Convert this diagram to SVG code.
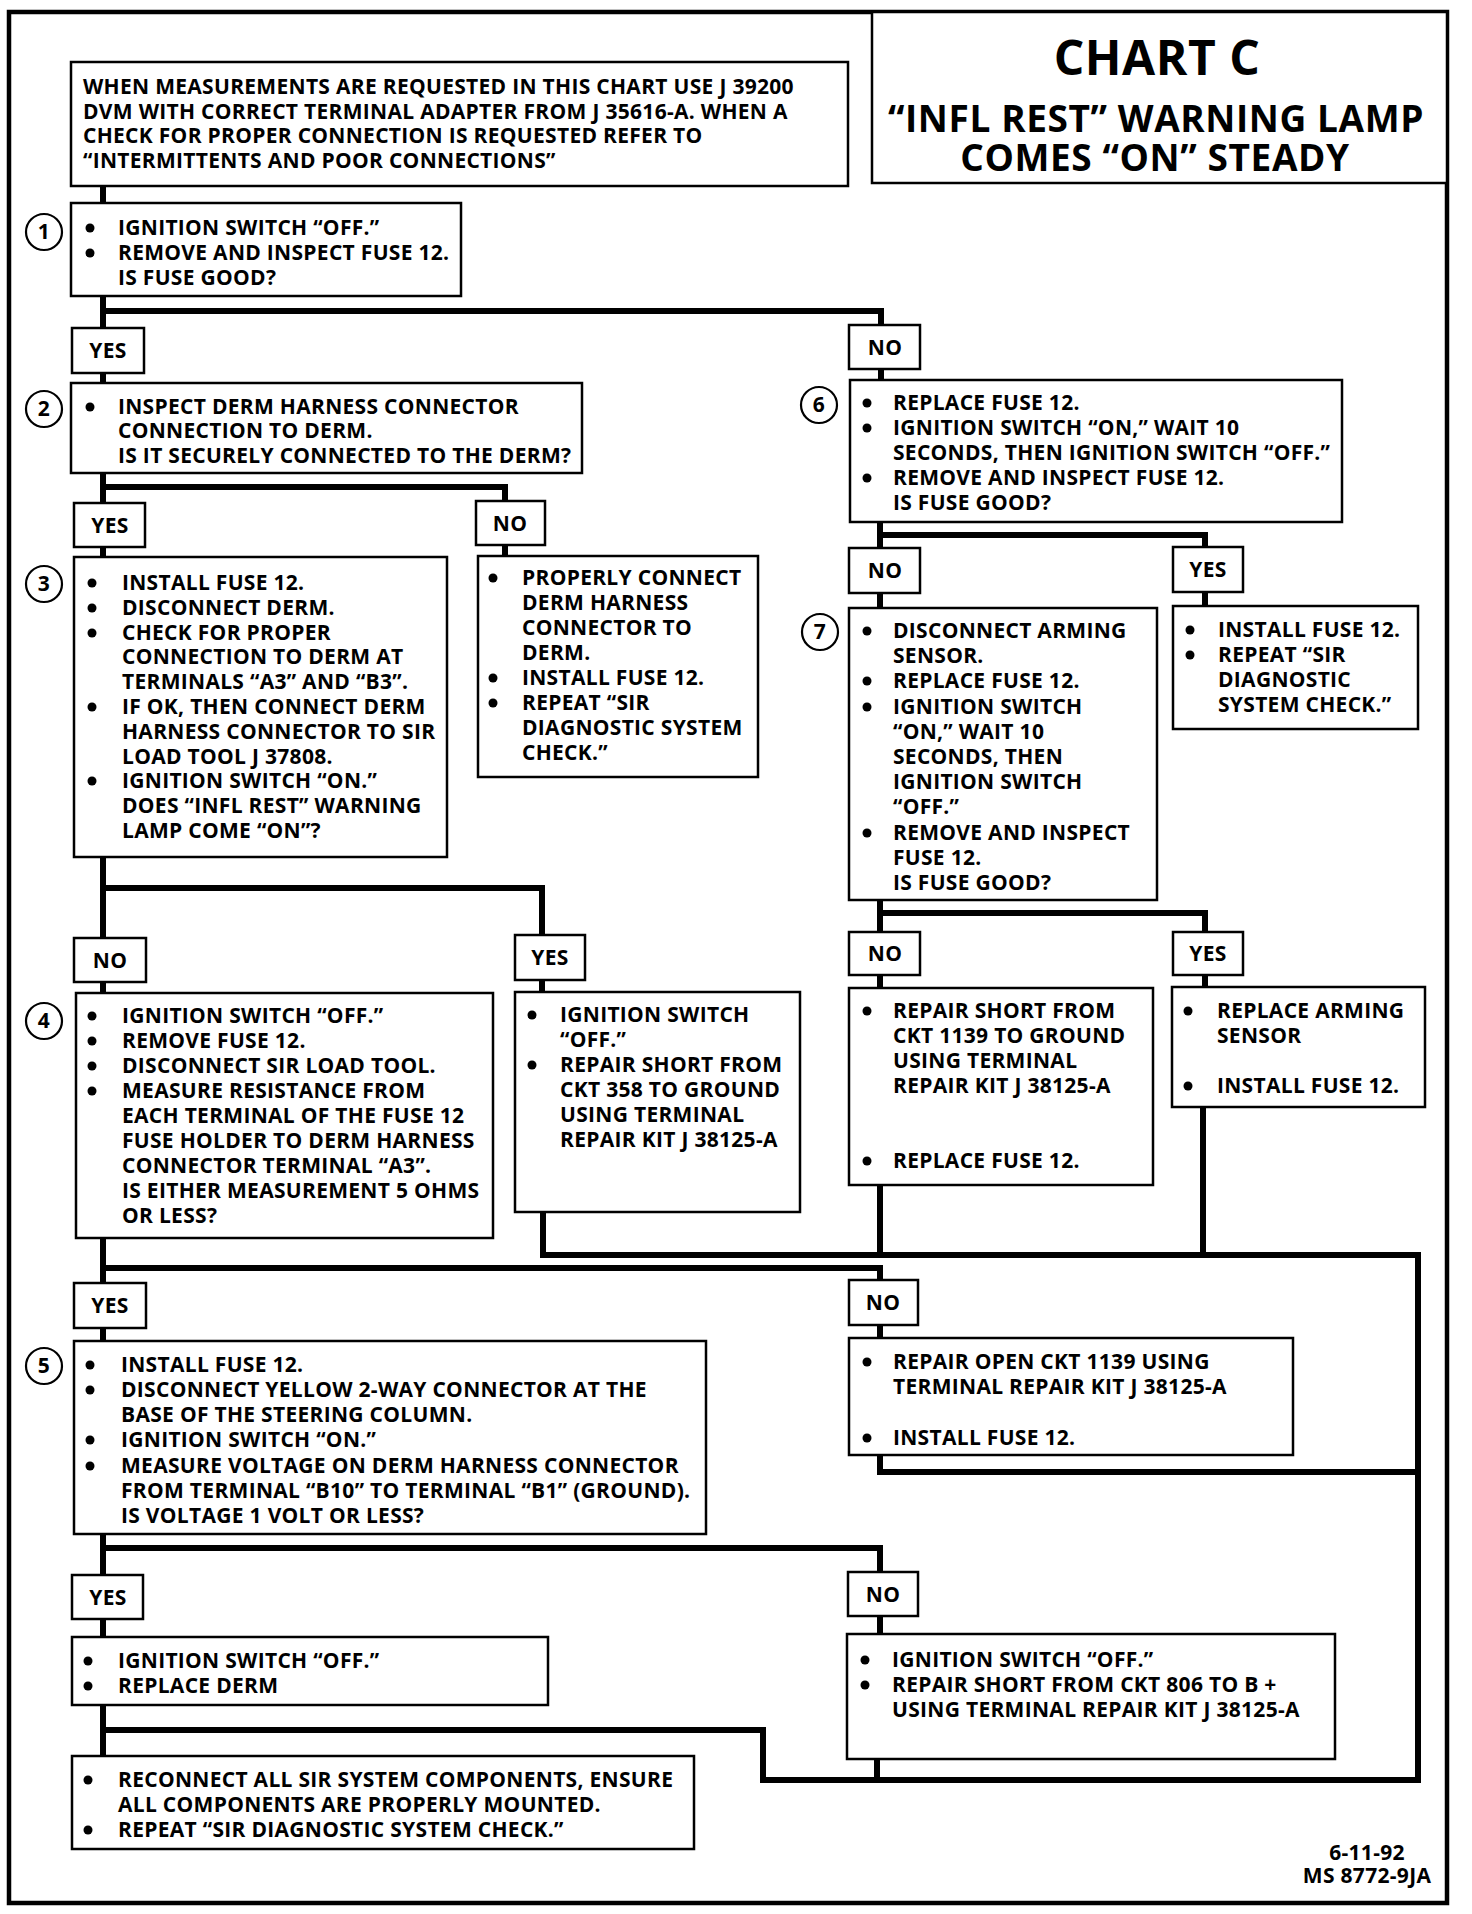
<svg xmlns="http://www.w3.org/2000/svg" width="1472" height="1914" viewBox="0 0 1472 1914">
<style>
.bg{fill:#fff}
.frame{fill:none;stroke:#000;stroke-width:4.5}
.box{fill:#fff;stroke:#000;stroke-width:2.5}
.lbl{fill:#fff;stroke:#000;stroke-width:2.5}
.conn{fill:none;stroke:#000;stroke-width:6;stroke-linejoin:miter}
.t{font-family:"Open Sans","Liberation Sans",sans-serif;font-weight:700;font-size:21px;letter-spacing:0.3px;fill:#000}
.c{text-anchor:middle}
.b{fill:#000}
.num{fill:#fff;stroke:#000;stroke-width:2.2}
.title1{font-family:"Open Sans","Liberation Sans",sans-serif;font-weight:700;font-size:48px;letter-spacing:0.5px;fill:#000;text-anchor:middle}
.title2{font-family:"Open Sans","Liberation Sans",sans-serif;font-weight:700;font-size:37px;letter-spacing:0.6px;fill:#000;text-anchor:middle}
</style>
<rect class="bg" x="0" y="0" width="1472" height="1914"/>
<rect class="frame" x="9" y="12" width="1438" height="1891"/>

<g id="connectors">
<path class="conn" d="M103 186 V1756"/>
<path class="conn" d="M103 311 H881 V380"/>
<path class="conn" d="M103 487 H505 V556"/>
<path class="conn" d="M880 522 V608"/>
<path class="conn" d="M880 535 H1205 V606"/>
<path class="conn" d="M103 888 H542 V992"/>
<path class="conn" d="M880 900 V988"/>
<path class="conn" d="M880 913 H1205 V987"/>
<path class="conn" d="M103 1268 H880 V1338"/>
<path class="conn" d="M543 1212 V1255 H1418 V1780 H763 V1730 H103"/>
<path class="conn" d="M880 1185 V1255"/>
<path class="conn" d="M1203 1107 V1255"/>
<path class="conn" d="M880 1455 V1472 H1418"/>
<path class="conn" d="M103 1548 H880 V1634"/>
<path class="conn" d="M877 1759 V1780"/>
</g>

<g id="title">
<rect class="box" x="872" y="12" width="575" height="171"/>
<text class="title1" x="1157" y="75">CHART C</text>
<text class="title2" x="1156" y="132">“INFL REST” WARNING LAMP</text>
<text class="title2" x="1155" y="171">COMES “ON” STEADY</text>
</g>

<g id="note">
<rect class="box" x="71" y="62" width="777" height="124"/>
<text class="t" x="83" y="94">WHEN MEASUREMENTS ARE REQUESTED IN THIS CHART USE J 39200</text>
<text class="t" x="83" y="119">DVM WITH CORRECT TERMINAL ADAPTER FROM J 35616-A.  WHEN A</text>
<text class="t" x="83" y="143">CHECK FOR PROPER CONNECTION IS REQUESTED REFER TO</text>
<text class="t" x="83" y="168">“INTERMITTENTS AND POOR CONNECTIONS”</text>
</g>

<g id="step1">
<circle class="num" cx="44" cy="232" r="18"/><text class="t c" x="44" y="239">1</text>
<rect class="box" x="71" y="203" width="390" height="93"/>
<circle class="b" cx="90" cy="228" r="4.5"/><text class="t" x="118" y="235">IGNITION SWITCH “OFF.”</text>
<circle class="b" cx="90" cy="253" r="4.5"/><text class="t" x="118" y="260">REMOVE AND INSPECT FUSE 12.</text>
<text class="t" x="118" y="285">IS FUSE GOOD?</text>
</g>

<g id="l1yes"><rect class="lbl" x="72" y="328" width="72" height="45"/><text class="t c" x="108" y="358">YES</text></g>
<g id="l1no"><rect class="lbl" x="849" y="325" width="71" height="44"/><text class="t c" x="885" y="355">NO</text></g>

<g id="step2">
<circle class="num" cx="44" cy="409" r="18"/><text class="t c" x="44" y="416">2</text>
<rect class="box" x="71" y="383" width="511" height="90"/>
<circle class="b" cx="90" cy="407" r="4.5"/><text class="t" x="118" y="414">INSPECT DERM HARNESS CONNECTOR</text>
<text class="t" x="118" y="438">CONNECTION TO DERM.</text>
<text class="t" x="118" y="463">IS IT SECURELY CONNECTED TO THE DERM?</text>
</g>

<g id="l2yes"><rect class="lbl" x="74" y="503" width="71" height="44"/><text class="t c" x="110" y="533">YES</text></g>
<g id="l2no"><rect class="lbl" x="476" y="501" width="69" height="44"/><text class="t c" x="510" y="531">NO</text></g>

<g id="step3">
<circle class="num" cx="44" cy="584" r="18"/><text class="t c" x="44" y="591">3</text>
<rect class="box" x="74" y="557" width="373" height="300"/>
<circle class="b" cx="92" cy="583" r="4.5"/><text class="t" x="122" y="590">INSTALL FUSE 12.</text>
<circle class="b" cx="92" cy="608" r="4.5"/><text class="t" x="122" y="615">DISCONNECT DERM.</text>
<circle class="b" cx="92" cy="633" r="4.5"/><text class="t" x="122" y="640">CHECK FOR PROPER</text>
<text class="t" x="122" y="664">CONNECTION TO DERM AT</text>
<text class="t" x="122" y="689">TERMINALS “A3” AND “B3”.</text>
<circle class="b" cx="92" cy="707" r="4.5"/><text class="t" x="122" y="714">IF OK, THEN CONNECT DERM</text>
<text class="t" x="122" y="739">HARNESS CONNECTOR TO SIR</text>
<text class="t" x="122" y="764">LOAD TOOL J 37808.</text>
<circle class="b" cx="92" cy="781" r="4.5"/><text class="t" x="122" y="788">IGNITION SWITCH “ON.”</text>
<text class="t" x="122" y="813">DOES “INFL REST” WARNING</text>
<text class="t" x="122" y="838">LAMP COME “ON”?</text>
</g>

<g id="connect">
<rect class="box" x="478" y="556" width="280" height="221"/>
<circle class="b" cx="493" cy="578" r="4.5"/><text class="t" x="522" y="585">PROPERLY CONNECT</text>
<text class="t" x="522" y="610">DERM HARNESS</text>
<text class="t" x="522" y="635">CONNECTOR TO</text>
<text class="t" x="522" y="660">DERM.</text>
<circle class="b" cx="493" cy="678" r="4.5"/><text class="t" x="522" y="685">INSTALL FUSE 12.</text>
<circle class="b" cx="493" cy="703" r="4.5"/><text class="t" x="522" y="710">REPEAT “SIR</text>
<text class="t" x="522" y="735">DIAGNOSTIC SYSTEM</text>
<text class="t" x="522" y="760">CHECK.”</text>
</g>

<g id="step6">
<circle class="num" cx="819" cy="405" r="18"/><text class="t c" x="819" y="412">6</text>
<rect class="box" x="850" y="380" width="492" height="142"/>
<circle class="b" cx="867" cy="403" r="4.5"/><text class="t" x="893" y="410">REPLACE FUSE 12.</text>
<circle class="b" cx="867" cy="428" r="4.5"/><text class="t" x="893" y="435">IGNITION SWITCH “ON,” WAIT 10</text>
<text class="t" x="893" y="460">SECONDS, THEN IGNITION SWITCH “OFF.”</text>
<circle class="b" cx="867" cy="478" r="4.5"/><text class="t" x="893" y="485">REMOVE AND INSPECT FUSE 12.</text>
<text class="t" x="893" y="510">IS FUSE GOOD?</text>
</g>

<g id="l6no"><rect class="lbl" x="849" y="548" width="71" height="45"/><text class="t c" x="885" y="578">NO</text></g>
<g id="l6yes"><rect class="lbl" x="1173" y="547" width="70" height="45"/><text class="t c" x="1208" y="577">YES</text></g>

<g id="step7">
<circle class="num" cx="820" cy="632" r="18"/><text class="t c" x="820" y="639">7</text>
<rect class="box" x="849" y="608" width="308" height="292"/>
<circle class="b" cx="867" cy="631" r="4.5"/><text class="t" x="893" y="638">DISCONNECT ARMING</text>
<text class="t" x="893" y="663">SENSOR.</text>
<circle class="b" cx="867" cy="681" r="4.5"/><text class="t" x="893" y="688">REPLACE FUSE 12.</text>
<circle class="b" cx="867" cy="707" r="4.5"/><text class="t" x="893" y="714">IGNITION SWITCH</text>
<text class="t" x="893" y="739">“ON,” WAIT 10</text>
<text class="t" x="893" y="764">SECONDS, THEN</text>
<text class="t" x="893" y="789">IGNITION SWITCH</text>
<text class="t" x="893" y="814">“OFF.”</text>
<circle class="b" cx="867" cy="833" r="4.5"/><text class="t" x="893" y="840">REMOVE AND INSPECT</text>
<text class="t" x="893" y="865">FUSE 12.</text>
<text class="t" x="893" y="890">IS FUSE GOOD?</text>
</g>

<g id="fuseok">
<rect class="box" x="1173" y="606" width="245" height="123"/>
<circle class="b" cx="1190" cy="630" r="4.5"/><text class="t" x="1218" y="637">INSTALL FUSE 12.</text>
<circle class="b" cx="1190" cy="655" r="4.5"/><text class="t" x="1218" y="662">REPEAT “SIR</text>
<text class="t" x="1218" y="687">DIAGNOSTIC</text>
<text class="t" x="1218" y="712">SYSTEM CHECK.”</text>
</g>

<g id="l3no"><rect class="lbl" x="74" y="938" width="72" height="44"/><text class="t c" x="110" y="968">NO</text></g>
<g id="l3yes"><rect class="lbl" x="515" y="935" width="70" height="45"/><text class="t c" x="550" y="965">YES</text></g>
<g id="l7no"><rect class="lbl" x="849" y="932" width="71" height="43"/><text class="t c" x="885" y="961">NO</text></g>
<g id="l7yes"><rect class="lbl" x="1173" y="932" width="70" height="43"/><text class="t c" x="1208" y="961">YES</text></g>

<g id="step4">
<circle class="num" cx="44" cy="1021" r="18"/><text class="t c" x="44" y="1028">4</text>
<rect class="box" x="76" y="993" width="417" height="245"/>
<circle class="b" cx="92" cy="1016" r="4.5"/><text class="t" x="122" y="1023">IGNITION SWITCH “OFF.”</text>
<circle class="b" cx="92" cy="1041" r="4.5"/><text class="t" x="122" y="1048">REMOVE FUSE 12.</text>
<circle class="b" cx="92" cy="1066" r="4.5"/><text class="t" x="122" y="1073">DISCONNECT SIR LOAD TOOL.</text>
<circle class="b" cx="92" cy="1091" r="4.5"/><text class="t" x="122" y="1098">MEASURE RESISTANCE FROM</text>
<text class="t" x="122" y="1123">EACH TERMINAL OF THE FUSE 12</text>
<text class="t" x="122" y="1148">FUSE HOLDER TO DERM HARNESS</text>
<text class="t" x="122" y="1173">CONNECTOR TERMINAL “A3”.</text>
<text class="t" x="122" y="1198">IS EITHER MEASUREMENT 5 OHMS</text>
<text class="t" x="122" y="1223">OR LESS?</text>
</g>

<g id="short358">
<rect class="box" x="515" y="992" width="285" height="220"/>
<circle class="b" cx="532" cy="1015" r="4.5"/><text class="t" x="560" y="1022">IGNITION SWITCH</text>
<text class="t" x="560" y="1047">“OFF.”</text>
<circle class="b" cx="532" cy="1065" r="4.5"/><text class="t" x="560" y="1072">REPAIR SHORT FROM</text>
<text class="t" x="560" y="1097">CKT 358 TO GROUND</text>
<text class="t" x="560" y="1122">USING TERMINAL</text>
<text class="t" x="560" y="1147">REPAIR KIT J 38125-A</text>
</g>

<g id="short1139">
<rect class="box" x="849" y="988" width="304" height="197"/>
<circle class="b" cx="867" cy="1011" r="4.5"/><text class="t" x="893" y="1018">REPAIR SHORT FROM</text>
<text class="t" x="893" y="1043">CKT 1139 TO GROUND</text>
<text class="t" x="893" y="1068">USING TERMINAL</text>
<text class="t" x="893" y="1093">REPAIR KIT J 38125-A</text>
<circle class="b" cx="867" cy="1161" r="4.5"/><text class="t" x="893" y="1168">REPLACE FUSE 12.</text>
</g>

<g id="arming">
<rect class="box" x="1172" y="987" width="253" height="120"/>
<circle class="b" cx="1188" cy="1011" r="4.5"/><text class="t" x="1217" y="1018">REPLACE ARMING</text>
<text class="t" x="1217" y="1043">SENSOR</text>
<circle class="b" cx="1188" cy="1086" r="4.5"/><text class="t" x="1217" y="1093">INSTALL FUSE 12.</text>
</g>

<g id="l4yes"><rect class="lbl" x="74" y="1283" width="72" height="45"/><text class="t c" x="110" y="1313">YES</text></g>
<g id="l4no"><rect class="lbl" x="849" y="1280" width="69" height="45"/><text class="t c" x="883" y="1310">NO</text></g>

<g id="step5">
<circle class="num" cx="44" cy="1366" r="18"/><text class="t c" x="44" y="1373">5</text>
<rect class="box" x="74" y="1341" width="632" height="193"/>
<circle class="b" cx="90" cy="1365" r="4.5"/><text class="t" x="121" y="1372">INSTALL FUSE 12.</text>
<circle class="b" cx="90" cy="1390" r="4.5"/><text class="t" x="121" y="1397">DISCONNECT YELLOW 2-WAY CONNECTOR AT THE</text>
<text class="t" x="121" y="1422">BASE OF THE STEERING COLUMN.</text>
<circle class="b" cx="90" cy="1440" r="4.5"/><text class="t" x="121" y="1447">IGNITION SWITCH “ON.”</text>
<circle class="b" cx="90" cy="1466" r="4.5"/><text class="t" x="121" y="1473">MEASURE VOLTAGE ON DERM HARNESS CONNECTOR</text>
<text class="t" x="121" y="1498">FROM TERMINAL “B10” TO TERMINAL “B1” (GROUND).</text>
<text class="t" x="121" y="1523">IS VOLTAGE 1 VOLT OR LESS?</text>
</g>

<g id="open1139">
<rect class="box" x="849" y="1338" width="444" height="117"/>
<circle class="b" cx="867" cy="1362" r="4.5"/><text class="t" x="893" y="1369">REPAIR OPEN CKT 1139 USING</text>
<text class="t" x="893" y="1394">TERMINAL REPAIR KIT J 38125-A</text>
<circle class="b" cx="867" cy="1438" r="4.5"/><text class="t" x="893" y="1445">INSTALL FUSE 12.</text>
</g>

<g id="l5yes"><rect class="lbl" x="72" y="1575" width="71" height="44"/><text class="t c" x="108" y="1605">YES</text></g>
<g id="l5no"><rect class="lbl" x="848" y="1572" width="70" height="44"/><text class="t c" x="883" y="1602">NO</text></g>

<g id="derm">
<rect class="box" x="72" y="1637" width="476" height="68"/>
<circle class="b" cx="88" cy="1661" r="4.5"/><text class="t" x="118" y="1668">IGNITION SWITCH “OFF.”</text>
<circle class="b" cx="88" cy="1686" r="4.5"/><text class="t" x="118" y="1693">REPLACE DERM</text>
</g>

<g id="short806">
<rect class="box" x="847" y="1634" width="488" height="125"/>
<circle class="b" cx="865" cy="1660" r="4.5"/><text class="t" x="892" y="1667">IGNITION SWITCH “OFF.”</text>
<circle class="b" cx="865" cy="1685" r="4.5"/><text class="t" x="892" y="1692">REPAIR SHORT FROM CKT 806 TO B +</text>
<text class="t" x="892" y="1717">USING TERMINAL REPAIR KIT J 38125-A</text>
</g>

<g id="final">
<rect class="box" x="72" y="1756" width="622" height="93"/>
<circle class="b" cx="88" cy="1780" r="4.5"/><text class="t" x="118" y="1787">RECONNECT ALL SIR SYSTEM COMPONENTS, ENSURE</text>
<text class="t" x="118" y="1812">ALL COMPONENTS ARE PROPERLY MOUNTED.</text>
<circle class="b" cx="88" cy="1830" r="4.5"/><text class="t" x="118" y="1837">REPEAT “SIR DIAGNOSTIC SYSTEM CHECK.”</text>
</g>

<g id="footer">
<text class="t c" x="1367" y="1860">6-11-92</text>
<text class="t c" x="1367" y="1883">MS 8772-9JA</text>
</g>
</svg>
